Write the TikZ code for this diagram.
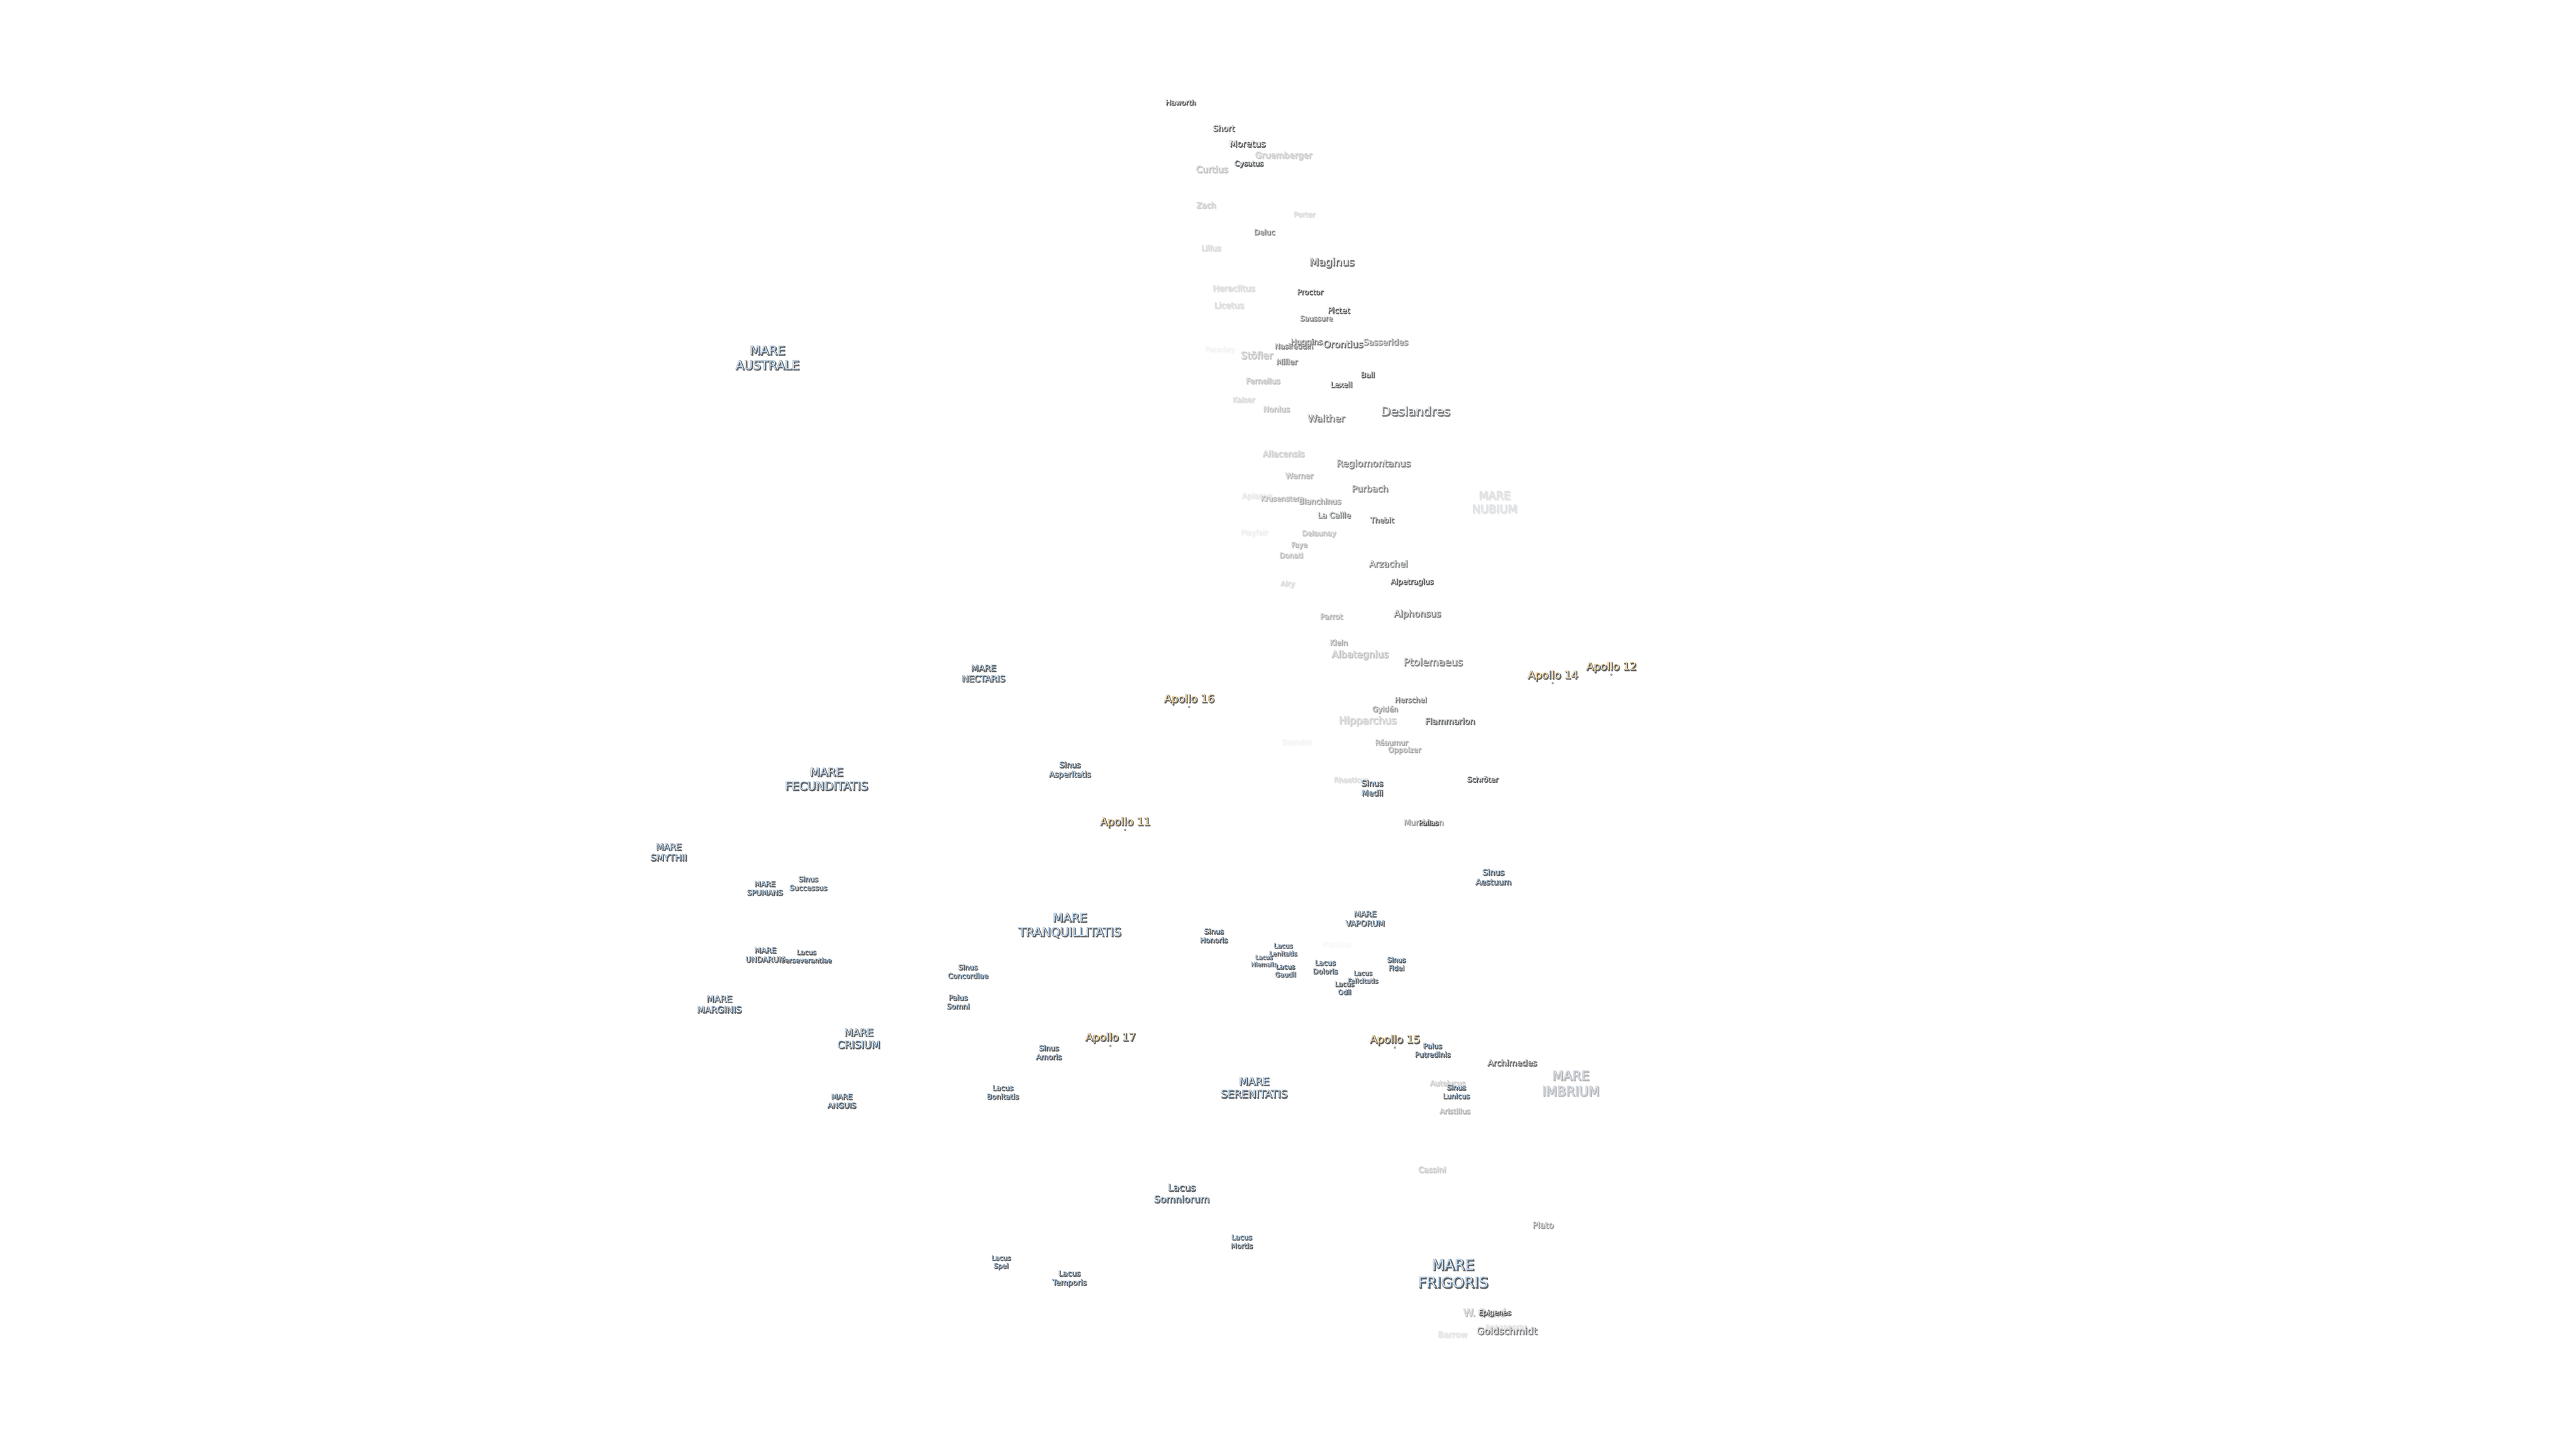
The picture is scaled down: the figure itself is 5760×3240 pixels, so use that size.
\documentclass[tikz,border=0pt]{standalone}
\usepackage{fontspec}
\setmainfont{DejaVu Sans}
\newfontfamily\fblurS{DejaVu Sans}[FakeBold=8]
\newfontfamily\fshadowS{DejaVu Sans}[FakeBold=5.5]
\newfontfamily\foutlineS{DejaVu Sans}[FakeBold=3]
\newfontfamily\fblurL{DejaVu Sans}[FakeBold=7]
\newfontfamily\fshadowL{DejaVu Sans}[FakeBold=5]
\newfontfamily\foutlineL{DejaVu Sans}[FakeBold=2.5]
\newdimen\pxu \pxu=0.25bp
\definecolor{cfill}{HTML}{FFFFFF}
\definecolor{mfill}{HTML}{C6E1FA}
\definecolor{afill}{HTML}{FCE2B0}
\definecolor{labshadow}{HTML}{666666}
\definecolor{labedge}{HTML}{5A6066}
\def\labfs{16}\def\labop{100}\def\labcol{cfill}
\newcommand{\labsize}{\edef\tmpa{\the\dimexpr\labfs\pxu\relax}\edef\tmpb{\the\dimexpr1.2\dimexpr\labfs\pxu\relax\relax}\fontsize{\tmpa}{\tmpb}\selectfont}
\newcommand{\sh}[1]{%
\pgfmathsetmacro\edgeop{min(100,\labop*min(1.5,0.8+\labop/30))}%
\pgfmathsetmacro\blurop{0.35*\edgeop}%
\pgfmathsetmacro\tintg{100-22*(1-\labop/100)*min(1,\labop/15)}%
\pgfmathsetmacro\isbig{\labfs>=20?1:0}%
\ifdim\isbig pt>0.5pt\let\fblur\fblurL\let\fshadow\fshadowL\let\foutline\foutlineL
\else\let\fblur\fblurS\let\fshadow\fshadowS\let\foutline\foutlineS\fi
\rule[-.25em]{0pt}{.95em}%
\rlap{\kern2\pxu\raisebox{-2\pxu}{\fblur\color{labshadow!\blurop!white}#1}}%
\rlap{\kern1.8\pxu\raisebox{-1.8\pxu}{\fshadow\color{labshadow!\edgeop!white}#1}}%
\rlap{\foutline\color{labedge!\edgeop!white}#1}%
{\color{\labcol!\labop!white!\tintg!labshadow}#1}}
\tikzset{
 lfs/.code={\def\labfs{#1}},
 lop/.code={\def\labop{#1}},
 lab/.style={inner sep=0pt,align=center,font=\labsize},
 crater/.style={lab,yshift=0.4bp,/utils/exec={\def\labcol{cfill}}},
 mare/.style={lab,/utils/exec={\def\labcol{mfill}}},
 apollo/.style={lab,lfs=24,/utils/exec={\def\labcol{afill}}},
 sitedot/.style={circle,inner sep=0pt,minimum size=1bp,fill=afill,draw=labedge,line width=.2bp},
}
\begin{document}
\begin{tikzpicture}[x=0.25bp,y=-0.25bp]
\useasboundingbox (0,0) rectangle (5760,3240);
\fill[white] (0,0) rectangle (5760,3240);
\begin{scope}[shift={(0,3)}]
% faint craters first
\node[crater,lfs=15.4,lop=3] (manilius) at (2989,2112) {\sh{Manilius}};
\node[crater,lfs=16,lop=5] (saunder) at (2900,1660) {\sh{Saunder}};
\node[crater,lfs=16.6,lop=5] (faraday) at (2728,782) {\sh{Faraday}};
\node[crater,lfs=16,lop=7] (playfair) at (2805,1192) {\sh{Playfair}};
\node[crater,lfs=17,lop=10] (apianus) at (2811,1110) {\sh{Apianus}};
\node[crater,lfs=16,lop=12] (anaxagoras) at (3368,2968) {\sh{Anaxagoras}};
\node[crater,lfs=18.6,lop=12] (barrow) at (3248,2985) {\sh{Barrow}};
\node[crater,lfs=17.4,lop=15] (lilius) at (2708,555) {\sh{Lilius}};
\node[crater,lfs=18.7,lop=15] (heraclitus) at (2759,645) {\sh{Heraclitus}};
\node[crater,lfs=18.7,lop=15] (licetus) at (2748,683) {\sh{Licetus}};
\node[crater,lfs=16,lop=15] (kaiser) at (2781,894) {\sh{Kaiser}};
\node[crater,lfs=16,lop=15] (porter) at (2917,480) {\sh{Porter}};
\node[crater,lfs=16,lop=15] (airy) at (2879,1306) {\sh{Airy}};
\node[crater,lfs=15.5,lop=15] (rhaeticus) at (3021,1744) {\sh{Rhaeticus}};
\node[mare,lfs=25,lop=13] (nubium) at (3342,1123) {\sh{MARE}\\\sh{NUBIUM}};
\node[crater,lfs=19,lop=20] (gruemberger) at (2870,348) {\sh{Gruemberger}};
\node[crater,lfs=17.7,lop=20] (zach) at (2697,459) {\sh{Zach}};
\node[crater,lfs=18.8,lop=20] (aliacensis) at (2870,1015) {\sh{Aliacensis}};
\node[crater,lfs=22.8,lop=20] (hipparchus) at (3058,1612) {\sh{Hipparchus}};
\node[crater,lfs=16.2,lop=20] (autolycus) at (3237,2423) {\sh{Autolycus}};
\node[crater,lfs=17.4,lop=20] (cassini) at (3202,2616) {\sh{Cassini}};
\node[crater,lfs=23.4,lop=25] (wbond) at (3319,2936) {\sh{W. Bond}};
\node[crater,lfs=20,lop=25] (curtius) at (2710,379) {\sh{Curtius}};
\node[crater,lfs=21.6,lop=25] (stofler) at (2810,795) {\sh{Stöfler}};
\node[crater,lfs=17,lop=25] (fernelius) at (2824,852) {\sh{Fernelius}};
\node[crater,lfs=17.4,lop=25] (nonius) at (2854,915) {\sh{Nonius}};
\node[crater,lfs=16,lop=25] (delaunay) at (2949,1193) {\sh{Delaunay}};
\node[crater,lfs=16,lop=25] (donati) at (2887,1242) {\sh{Donati}};
\node[crater,lfs=21.5,lop=25] (albategnius) at (3041,1464) {\sh{Albategnius}};
\node[mare,lfs=29,lop=30] (imbrium) at (3512,2423) {\sh{MARE}\\\sh{IMBRIUM}};
\node[crater,lfs=15.5,lop=30] (faye) at (2905,1219) {\sh{Faye}};
\node[crater,lfs=17.3,lop=30] (werner) at (2905,1064) {\sh{Werner}};
\node[crater,lfs=16,lop=30] (krusenstern) at (2867,1115) {\sh{Krusenstern}};
\node[crater,lfs=17,lop=30] (parrot) at (2977,1379) {\sh{Parrot}};
\node[crater,lfs=16,lop=30] (aristillus) at (3253,2485) {\sh{Aristillus}};
\node[crater,lfs=16.3,lop=35] (klein) at (2993,1437) {\sh{Klein}};
\node[crater,lfs=16.2,lop=35] (reaumur) at (3111,1660) {\sh{Réaumur}};
\node[crater,lfs=16.3,lop=35] (oppolzer) at (3140,1677) {\sh{Oppolzer}};
\node[crater,lfs=17.3,lop=40] (blanchinus) at (2951,1121) {\sh{Blanchinus}};
\node[crater,lfs=16.3,lop=40] (gylden) at (3097,1586) {\sh{Gyldén}};
\node[crater,lfs=17.4,lop=40] (murchison) at (3183,1839) {\sh{Murchison}};
\node[crater,lfs=19,lop=40] (plato) at (3450,2740) {\sh{Plato}};
\node[crater,lfs=18.7,lop=45] (sasserides) at (3098,765) {\sh{Sasserides}};
% middle craters
\node[crater,lfs=16,lop=50] (nasireddin) at (2893,774) {\sh{Nasireddin}};
\node[crater,lfs=17.5,lop=55] (huggins) at (2921,765) {\sh{Huggins}};
\node[crater,lfs=21,lop=60] (orontius) at (3003,770) {\sh{Orontius}};
\node[crater,lfs=16,lop=50] (saussure) at (2943,712) {\sh{Saussure}};
\node[crater,lfs=17.4,lop=50] (miller) at (2877,809) {\sh{Miller}};
\node[crater,lfs=16.5,lop=50] (deluc) at (2827,519) {\sh{Deluc}};
\node[crater,lfs=21.4,lop=50] (walther) at (2965,936) {\sh{Walther}};
\node[crater,lfs=21.2,lop=50] (regiomontanus) at (3071,1037) {\sh{Regiomontanus}};
\node[crater,lfs=20,lop=50] (purbach) at (3063,1093) {\sh{Purbach}};
\node[crater,lfs=17.4,lop=50] (lacaille) at (2983,1152) {\sh{La Caille}};
\node[crater,lfs=20,lop=50] (arzachel) at (3104,1261) {\sh{Arzachel}};
\node[crater,lfs=22.6,lop=50] (ptolemaeus) at (3204,1481) {\sh{Ptolemaeus}};
\node[crater,lfs=27.7,lop=55] (deslandres) at (3165,921) {\sh{Deslandres}};
\node[crater,lfs=20.4,lop=55] (alphonsus) at (3169,1373) {\sh{Alphonsus}};
\node[crater,lfs=16.3,lop=55] (herschel) at (3154,1565) {\sh{Herschel}};
\node[crater,lfs=21.5,lop=55] (goldschmidt) at (3369,2977) {\sh{Goldschmidt}};
\node[crater,lfs=24,lop=60] (maginus) at (2978,587) {\sh{Maginus}};
\node[crater,lfs=16.6,lop=60] (thebit) at (3090,1163) {\sh{Thebit}};
\node[crater,lfs=18.7,lop=60] (flammarion) at (3242,1613) {\sh{Flammarion}};
\node[crater,lfs=18.7,lop=60] (archimedes) at (3381,2377) {\sh{Archimedes}};
\node[crater,lfs=17,lop=65] (lexell) at (2999,860) {\sh{Lexell}};
\node[crater,lfs=16.3,lop=70] (proctor) at (2929,653) {\sh{Proctor}};
\node[crater,lfs=16.8,lop=70] (alpetragius) at (3157,1301) {\sh{Alpetragius}};
\node[crater,lfs=16,lop=80] (haworth) at (2640,229) {\sh{Haworth}};
\node[crater,lfs=18,lop=80] (short) at (2736,287) {\sh{Short}};
\node[crater,lfs=20,lop=75] (moretus) at (2789,322) {\sh{Moretus}};
\node[crater,lfs=16.3,lop=85] (cysatus) at (2792,366) {\sh{Cysatus}};
\node[crater,lfs=17.7,lop=85] (pictet) at (2993,694) {\sh{Pictet}};
\node[crater,lfs=16.5,lop=90] (ball) at (3058,838) {\sh{Ball}};
\node[crater,lfs=16.4,lop=80] (schroter) at (3315,1743) {\sh{Schröter}};
\node[crater,lfs=15.5,lop=80] (pallas) at (3194,1840) {\sh{Pallas}};
\node[crater,lfs=16,lop=80] (epigenes) at (3342,2936) {\sh{Epigenes}};
% maria, lakes and bays
\node[mare,lfs=27.5,lop=85] (australe) at (1716,800) {\sh{MARE}\\\sh{AUSTRALE}};
\node[mare,lfs=19.6,lop=90] (nectaris) at (2199,1505) {\sh{MARE}\\\sh{NECTARIS}};
\node[mare,lfs=26,lop=85] (fecunditatis) at (1848,1742) {\sh{MARE}\\\sh{FECUNDITATIS}};
\node[mare,lfs=17.5,lop=90] (asperitatis) at (2392,1720) {\sh{Sinus}\\\sh{Asperitatis}};
\node[mare,lfs=18,lop=95] (medii) at (3068,1761) {\sh{Sinus}\\\sh{Medii}};
\node[mare,lfs=18,lop=90] (aestuum) at (3339,1960) {\sh{Sinus}\\\sh{Aestuum}};
\node[mare,lfs=20,lop=90] (smythii) at (1495,1905) {\sh{MARE}\\\sh{SMYTHII}};
\node[mare,lfs=16.3,lop=90] (spumans) at (1710,1985) {\sh{MARE}\\\sh{SPUMANS}};
\node[mare,lfs=16.2,lop=90] (successus) at (1807,1974) {\sh{Sinus}\\\sh{Successus}};
\node[mare,lfs=17,lop=90] (undarum) at (1711,2134) {\sh{MARE}\\\sh{UNDARUM}};
\node[mare,lfs=15,lop=90] (perseverantiae) at (1803,2137) {\sh{Lacus}\\\sh{Perseverantiae}};
\node[mare,lfs=26.7,lop=90] (tranquillitatis) at (2392,2068) {\sh{MARE}\\\sh{TRANQUILLITATIS}};
\node[mare,lfs=16,lop=90] (concordiae) at (2164,2171) {\sh{Sinus}\\\sh{Concordiae}};
\node[mare,lfs=16.3,lop=90] (somni) at (2142,2239) {\sh{Palus}\\\sh{Somni}};
\node[mare,lfs=20,lop=90] (marginis) at (1608,2245) {\sh{MARE}\\\sh{MARGINIS}};
\node[mare,lfs=22.7,lop=90] (crisium) at (1920,2322) {\sh{MARE}\\\sh{CRISIUM}};
\node[mare,lfs=16.5,lop=90] (amoris) at (2345,2352) {\sh{Sinus}\\\sh{Amoris}};
\node[mare,lfs=16.2,lop=90] (bonitatis) at (2242,2441) {\sh{Lacus}\\\sh{Bonitatis}};
\node[mare,lfs=16.5,lop=90] (anguis) at (1882,2461) {\sh{MARE}\\\sh{ANGUIS}};
\node[mare,lfs=23.6,lop=85] (serenitatis) at (2804,2432) {\sh{MARE}\\\sh{SERENITATIS}};
\node[mare,lfs=21.5,lop=85] (somniorum) at (2642,2668) {\sh{Lacus}\\\sh{Somniorum}};
\node[mare,lfs=16,lop=90] (mortis) at (2776,2775) {\sh{Lacus}\\\sh{Mortis}};
\node[mare,lfs=15,lop=90] (spei) at (2238,2821) {\sh{Lacus}\\\sh{Spei}};
\node[mare,lfs=17,lop=90] (temporis) at (2391,2857) {\sh{Lacus}\\\sh{Temporis}};
\node[mare,lfs=17.5,lop=90] (vaporum) at (3052,2053) {\sh{MARE}\\\sh{VAPORUM}};
\node[mare,lfs=16.2,lop=90] (honoris) at (2714,2091) {\sh{Sinus}\\\sh{Honoris}};
\node[mare,lfs=14.5,lop=90] (lenitatis) at (2869,2122) {\sh{Lacus}\\\sh{Lenitatis}};
\node[mare,lfs=13.3,lop=90] (hiemalis) at (2826,2147) {\sh{Lacus}\\\sh{Hiemalis}};
\node[mare,lfs=14.7,lop=90] (gaudii) at (2874,2169) {\sh{Lacus}\\\sh{Gaudii}};
\node[mare,lfs=16,lop=90] (doloris) at (2963,2161) {\sh{Lacus}\\\sh{Doloris}};
\node[mare,lfs=15.3,lop=90] (fidei) at (3122,2154) {\sh{Sinus}\\\sh{Fidei}};
\node[mare,lfs=14.4,lop=90] (felicitatis) at (3047,2183) {\sh{Lacus}\\\sh{Felicitatis}};
\node[mare,lfs=15,lop=90] (odii) at (3006,2208) {\sh{Lacus}\\\sh{Odii}};
\node[mare,lfs=16,lop=90] (putredinis) at (3203,2347) {\sh{Palus}\\\sh{Putredinis}};
\node[mare,lfs=15.8,lop=100] (lunicus) at (3256,2440) {\sh{Sinus}\\\sh{Lunicus}};
\node[mare,lfs=33,lop=90] (frigoris) at (3249,2849) {\sh{MARE}\\\sh{FRIGORIS}};
% Apollo landing sites
\node[apollo,lop=95] (apollo12) at (3603,1490) {\sh{Apollo 12}};
\node[sitedot] (site12) at (3603,1506) {};
\node[apollo,lop=95] (apollo14) at (3472,1509) {\sh{Apollo 14}};
\node[sitedot] (site14) at (3472,1525) {};
\node[apollo,lop=95] (apollo16) at (2659,1562) {\sh{Apollo 16}};
\node[sitedot] (site16) at (2659,1578) {};
\node[apollo,lop=95] (apollo11) at (2516,1837) {\sh{Apollo 11}};
\node[sitedot] (site11) at (2516,1853) {};
\node[apollo,lop=95] (apollo17) at (2483,2319) {\sh{Apollo 17}};
\node[sitedot] (site17) at (2483,2336) {};
\node[apollo,lop=95] (apollo15) at (3119,2324) {\sh{Apollo 15}};
\node[sitedot] (site15) at (3119,2340) {};
\end{scope}
\end{tikzpicture}
\end{document}
